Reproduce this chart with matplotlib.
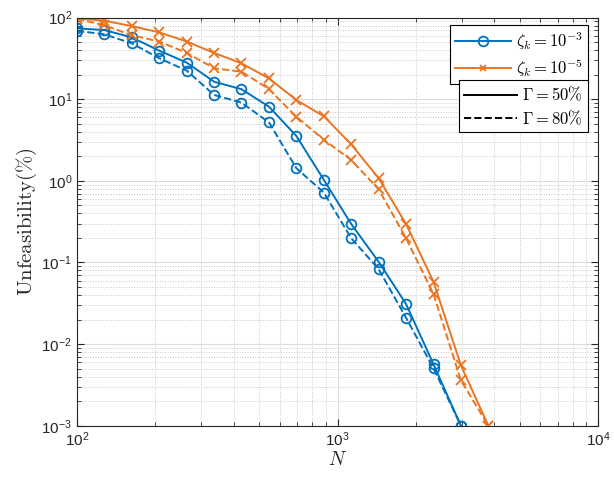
import numpy as np
import matplotlib.pyplot as plt
from matplotlib.lines import Line2D
from matplotlib.ticker import LogLocator

plt.rcParams['mathtext.fontset'] = 'custom'
plt.rcParams['mathtext.rm'] = 'Liberation Sans'
plt.rcParams['font.family'] = ['Liberation Sans', 'DejaVu Sans']

# sample sizes
Nvals = [100, 127, 162, 207, 264, 336, 428, 546, 695, 886, 1129, 1438, 1833, 2336, 2976, 3793]

# unfeasibility (%), zeta_k = 1e-3
blue_g50 = [74, 70.7, 57.5, 39.4, 28.1, 16.4, 13.3, 8.1, 3.55, 1.03, 0.296, 0.102, 0.031, 0.00565, 0.001]
blue_g80 = [69, 62.6, 48.6, 31.8, 22.4, 11.3, 9.1, 5.2, 1.43, 0.72, 0.198, 0.083, 0.021, 0.00505, 0.001]
# unfeasibility (%), zeta_k = 1e-5
orange_g50 = [98, 92, 79, 66, 51, 37, 27.6, 18, 9.8, 6.2, 2.8, 1.08, 0.296, 0.058, 0.0055, 0.001]
orange_g80 = [97, 81, 61, 51, 37, 24, 21.8, 13.3, 6.1, 3.2, 1.8, 0.79, 0.198, 0.041, 0.0036, 0.001]

c1 = "#0072BD"
c2 = "#EA7420"
axcol = "#262626"

fig = plt.figure(figsize=(6.14, 4.78), dpi=100)
ax = fig.add_axes([0.1254, 0.1094, 0.8486, 0.8536])

nb = len(blue_g50)
ax.plot(Nvals[:nb], blue_g50, color=c1, lw=1.4, ls='-', marker='o', ms=7, mfc='none', mew=1.3)
ax.plot(Nvals[:nb], blue_g80, color=c1, lw=1.4, ls='--', marker='o', ms=7, mfc='none', mew=1.3)
ax.plot(Nvals, orange_g50, color=c2, lw=1.4, ls='-', marker='x', ms=7, mew=1.3)
ax.plot(Nvals, orange_g80, color=c2, lw=1.4, ls='--', marker='x', ms=7, mew=1.3)

ax.set_xscale('log')
ax.set_yscale('log')
ax.set_xlim(100, 1e4)
ax.set_ylim(1e-3, 1e2)
ax.xaxis.set_major_locator(LogLocator(base=10, numticks=10))
ax.yaxis.set_major_locator(LogLocator(base=10, numticks=10))

ax.grid(True, which='major', color='#dcdcdc', lw=0.8, ls='-')
ax.grid(True, which='minor', color='#c8c8c8', lw=0.7, ls=':')
ax.set_axisbelow(True)

ax.tick_params(which='both', direction='in', top=True, right=True, colors=axcol, labelsize=11)
ax.tick_params(which='major', length=5)
ax.tick_params(which='minor', length=3)
for s in ax.spines.values():
    s.set_color(axcol)
    s.set_linewidth(0.8)

ax.set_xlabel(r'$N$', fontsize=14, color=axcol, labelpad=1, math_fontfamily='cm')
ax.set_ylabel(r'$\mathrm{Unfeasibility(\%)}$', fontsize=15, color=axcol, labelpad=2,
              math_fontfamily='cm')

legfont = {'size': 12, 'math_fontfamily': 'cm'}

h1 = [Line2D([], [], color=c1, lw=1.4, marker='o', ms=7, mfc='none', mew=1.3),
      Line2D([], [], color=c2, lw=1.4, marker='x', ms=5, mew=1.3)]
leg1 = ax.legend(h1, [r'$\zeta_k = 10^{-3}$', r'$\zeta_k = 10^{-5}$'],
                 loc='upper right', bbox_to_anchor=(0.981, 0.982), prop=legfont,
                 fancybox=False, edgecolor='black', framealpha=1, handlelength=3.4,
                 borderpad=0.3, labelspacing=0.3, handletextpad=0.3, borderaxespad=0)
leg1.get_frame().set_linewidth(0.8)
ax.add_artist(leg1)

h2 = [Line2D([], [], color='black', lw=1.4, ls='-'),
      Line2D([], [], color='black', lw=1.4, ls='--')]
leg2 = ax.legend(h2, [r'$\Gamma = 50\%$', r'$\Gamma = 80\%$'],
                 loc='upper right', bbox_to_anchor=(0.981, 0.847), prop=legfont,
                 fancybox=False, edgecolor='black', framealpha=1, handlelength=3.2,
                 borderpad=0.3, labelspacing=0.3, handletextpad=0.3, borderaxespad=0)
leg2.get_frame().set_linewidth(0.8)

fig.savefig("out.png", dpi=100)
